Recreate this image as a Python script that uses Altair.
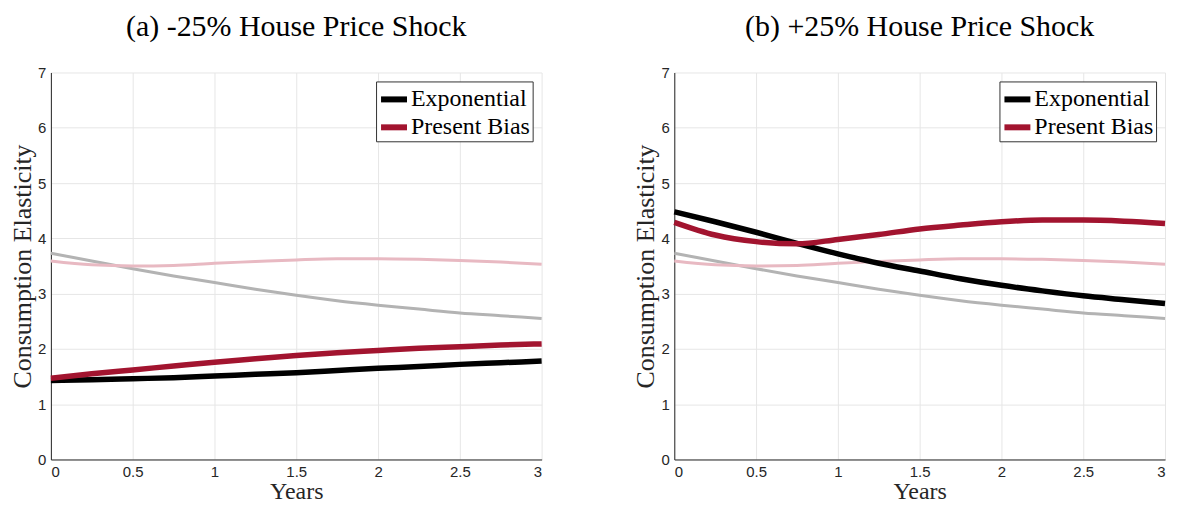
import altair as alt
import pandas as pd

years = [0, 0.25, 0.5, 0.75, 1, 1.25, 1.5, 1.75, 2, 2.25, 2.5, 2.75, 3]

# Faded reference curves (same in both panels)
ref_exp = [3.73, 3.59, 3.45, 3.32, 3.20, 3.08, 2.97, 2.87, 2.79, 2.72, 2.65, 2.60, 2.55]
ref_pb = [3.59, 3.52, 3.50, 3.51, 3.55, 3.58, 3.61, 3.63, 3.63, 3.62, 3.60, 3.57, 3.53]

# Panel (a): -25% shock
neg_exp = [1.43, 1.44, 1.46, 1.48, 1.51, 1.54, 1.57, 1.61, 1.65, 1.68, 1.72, 1.75, 1.78]
neg_pb = [1.47, 1.55, 1.62, 1.69, 1.76, 1.82, 1.88, 1.93, 1.97, 2.01, 2.04, 2.07, 2.09]

# Panel (b): +25% shock
pos_exp = [4.48, 4.30, 4.11, 3.91, 3.72, 3.55, 3.41, 3.27, 3.15, 3.05, 2.96, 2.89, 2.82]
pos_pb = [4.29, 4.06, 3.94, 3.90, 3.98, 4.07, 4.17, 4.24, 4.30, 4.33, 4.33, 4.31, 4.27]

titles = ["(a) -25% House Price Shock", "(b) +25% House Price Shock"]
series_names = ["Exponential", "Present Bias"]
series_colors = ["#000000", "#A2142F"]
x_ticks = [0, 0.5, 1, 1.5, 2, 2.5, 3]
y_ticks = [0, 1, 2, 3, 4, 5, 6, 7]

SERIF = "Liberation Serif"
SANS = "Liberation Sans"


def panel(exp_vals, pb_vals, title):
    main = pd.DataFrame(
        {"Years": years * 2,
         "Value": exp_vals + pb_vals,
         "Series": [series_names[0]] * len(years) + [series_names[1]] * len(years)}
    )
    ref_e = pd.DataFrame({"Years": years, "Value": ref_exp})
    ref_p = pd.DataFrame({"Years": years, "Value": ref_pb})

    x = alt.X("Years:Q", scale=alt.Scale(domain=[0, 3], nice=False),
              axis=alt.Axis(values=x_ticks, format="~g", title="Years",
                            titleFontSize=24))
    y = alt.Y("Value:Q", scale=alt.Scale(domain=[0, 7], nice=False),
              axis=alt.Axis(values=y_ticks, format="~g", title="Consumption Elasticity",
                            titleFontSize=26))

    l_ref_e = alt.Chart(ref_e).mark_line(color="#B3B3B3", strokeWidth=3,
                                         interpolate="monotone").encode(x=x, y=y)
    l_ref_p = alt.Chart(ref_p).mark_line(color="#E8B9C2", strokeWidth=3,
                                         interpolate="monotone").encode(x=x, y=y)
    l_main = alt.Chart(main).mark_line(strokeWidth=5.5, interpolate="monotone").encode(
        x=x, y=y,
        color=alt.Color("Series:N",
                        scale=alt.Scale(domain=series_names, range=series_colors),
                        sort=series_names,
                        legend=alt.Legend(title=None, orient="top-right", offset=9,
                                          symbolType="stroke", symbolStrokeWidth=6,
                                          symbolSize=676, labelFont=SERIF,
                                          labelFontSize=24, labelColor="#000",
                                          strokeColor="#333", fillColor="#fff",
                                          padding=2, rowPadding=0, labelOffset=1,
                                          symbolOffset=0)),
    )
    return alt.layer(l_ref_e, l_ref_p, l_main).properties(
        width=492, height=388,
        title=alt.TitleParams(title, font=SERIF, fontSize=30, fontWeight="normal",
                              color="#000", offset=24),
    )


chart = alt.hconcat(
    panel(neg_exp, neg_pb, titles[0]),
    panel(pos_exp, pos_pb, titles[1]),
    spacing=80,
).resolve_scale(color="independent").properties(
    padding={"left": 1, "top": 3, "right": 0, "bottom": 0}
).configure_view(stroke=None).configure_axis(
    grid=True, gridColor="#E6E6E6", domainColor="#262626", ticks=False,
    labelFont=SANS, labelFontSize=15, labelColor="#262626",
    titleFont=SERIF, titleFontWeight="normal", titleColor="#262626",
).configure_axisX(titlePadding=0, labelPadding=5).configure_axisY(titlePadding=2, labelPadding=5)

chart.save("out.html", embed_options={"renderer": "svg", "actions": False})
